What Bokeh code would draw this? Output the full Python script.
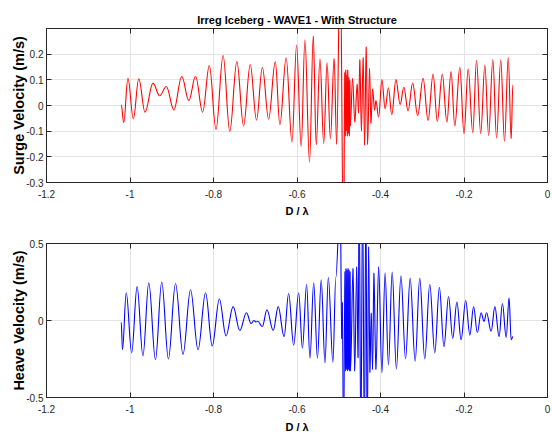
import numpy as np
from bokeh.plotting import figure
from bokeh.models import LinearAxis, FixedTicker, Range1d, CustomLabelingPolicy
from bokeh.layouts import column
from bokeh.embed import file_html
from bokeh.resources import INLINE

# ---------------- data (turning points of each trace) ----------------
title_text = "Irreg Iceberg - WAVE1 - With Structure"
x_label = "D / \u03bb"
surge_label = "Surge Velocity (m/s)"
heave_label = "Heave Velocity (m/s)"

x_ticks = [-1.2, -1.0, -0.8, -0.6, -0.4, -0.2, 0.0]
x_tick_labels = ["-1.2", "-1", "-0.8", "-0.6", "-0.4", "-0.2", "0"]
surge_ticks = [-0.3, -0.2, -0.1, 0.0, 0.1, 0.2]
surge_tick_labels = ["-0.3", "-0.2", "-0.1", "0", "0.1", "0.2"]
heave_ticks = [-0.5, 0.0, 0.5]
heave_tick_labels = ["-0.5", "0", "0.5"]

surge_x = [-1.021, -1.015, -1.005, -0.992, -0.979, -0.964, -0.945, -0.929, -0.913, -0.895,
           -0.876, -0.859, -0.843, -0.826, -0.810, -0.794, -0.777, -0.761, -0.744, -0.728,
           -0.712, -0.697, -0.683, -0.668, -0.652, -0.641, -0.626, -0.612, -0.601, -0.590,
           -0.581, -0.570, -0.561, -0.554, -0.545, -0.536, -0.528, -0.520, -0.511, -0.505,
           -0.4965, -0.4885,
           -0.4855, -0.4843, -0.4831, -0.4819, -0.4807, -0.4795, -0.4783, -0.4771, -0.4759,
           -0.4747, -0.4735, -0.4723,
           -0.4669, -0.4614, -0.4559, -0.4525, -0.4494, -0.4458, -0.4415, -0.4381, -0.4343,
           -0.4309, -0.4261, -0.4230, -0.4189, -0.4141, -0.4110, -0.4045, -0.3966,
           -0.389, -0.381, -0.373, -0.363, -0.353, -0.344, -0.334, -0.323, -0.311, -0.298,
           -0.286, -0.274, -0.264, -0.252, -0.241, -0.231, -0.222, -0.210, -0.200, -0.190,
           -0.179, -0.170, -0.160, -0.150, -0.141, -0.131, -0.122, -0.112, -0.103, -0.094,
           -0.087, -0.083]
surge_y = [0.003, -0.067, 0.106, -0.052, 0.104, -0.026, 0.087, 0.038, 0.074, -0.017,
           0.113, 0.019, 0.114, -0.026, 0.156, -0.093, 0.195, -0.101, 0.171, -0.080,
           0.160, -0.057, 0.149, -0.053, 0.170, -0.075, 0.186, -0.143, 0.236, -0.160,
           0.256, -0.221, 0.272, -0.153, 0.182, -0.149, 0.166, -0.130, 0.184, -0.152,
           0.60, -0.60,
           0.13, -0.12, 0.14, -0.10, 0.12, -0.12, 0.14, -0.11, 0.11,
           -0.12, 0.10, -0.08,
           0.106, -0.065, 0.084, -0.030, 0.180, -0.100, 0.188, -0.156, 0.230,
           -0.153, 0.145, -0.071, 0.065, -0.019, 0.019, -0.045, 0.101,
           -0.013, 0.069, -0.036, 0.101, 0.004, 0.071, -0.021, 0.087, -0.039, 0.106,
           -0.058, 0.123, -0.062, 0.123, -0.065, 0.132, -0.080, 0.149, -0.110, 0.143,
           -0.106, 0.176, -0.110, 0.158, -0.117, 0.179, -0.127, 0.178, -0.140, 0.188,
           -0.130, 0.081]

heave_x = [-1.021, -1.018, -1.009, -0.996, -0.983, -0.969, -0.955, -0.939, -0.924, -0.908,
           -0.891, -0.873, -0.855, -0.837, -0.819, -0.803, -0.786, -0.770, -0.753, -0.737,
           -0.721, -0.710, -0.703, -0.698, -0.694, -0.683, -0.672, -0.657, -0.645, -0.631,
           -0.620, -0.608, -0.596, -0.587, -0.577, -0.569, -0.560, -0.551, -0.542, -0.533,
           -0.525, -0.514, -0.507,
           -0.4965, -0.4928, -0.4915, -0.4885,
           -0.4850, -0.4838, -0.4826, -0.4814, -0.4802, -0.4790, -0.4778, -0.4766, -0.4754,
           -0.4742, -0.4730, -0.4718,
           -0.4658, -0.4617, -0.4569, -0.4537,
           -0.4511, -0.4470, -0.4429, -0.4386, -0.4350, -0.4319, -0.4283, -0.4254, -0.4223,
           -0.4189, -0.4158, -0.4110, -0.4045, -0.3966,
           -0.389, -0.381, -0.372, -0.362, -0.351, -0.340, -0.329, -0.317, -0.306, -0.294,
           -0.282, -0.270, -0.259, -0.248, -0.237, -0.227, -0.217, -0.207, -0.196, -0.186,
           -0.177, -0.168, -0.159, -0.152, -0.146, -0.135, -0.126, -0.116, -0.108, -0.099,
           -0.092, -0.087, -0.083]
heave_y = [-0.01, -0.19, 0.18, -0.21, 0.22, -0.23, 0.245, -0.255, 0.25, -0.25,
           0.24, -0.22, 0.20, -0.19, 0.18, -0.165, 0.14, -0.10, 0.09, -0.065,
           0.05, -0.02, 0.0, -0.01, -0.005, -0.04, 0.07, -0.065, 0.09, -0.105,
           0.175, -0.16, 0.18, -0.18, 0.235, -0.245, 0.245, -0.245, 0.265, -0.275,
           0.28, -0.27, 0.28,
           0.80, -0.12, 0.12, -0.80,
           0.32, -0.33, 0.34, -0.32, 0.33, -0.33, 0.34, -0.32, 0.33,
           -0.33, 0.32, -0.33,
           0.34, -0.33, 0.35, -0.245,
           0.80, -0.80, 0.80, -0.80, 0.80, -0.80, 0.48, -0.34, 0.05,
           -0.32, 0.31, -0.32, 0.35, -0.34,
           0.31, -0.29, 0.315, -0.315, 0.29, -0.25, 0.275, -0.265, 0.275, -0.25,
           0.235, -0.21, 0.215, -0.17, 0.155, -0.115, 0.12, -0.125, 0.13, -0.095,
           0.09, -0.08, 0.05, -0.005, 0.05, -0.07, 0.09, -0.105, 0.11, -0.11,
           0.145, -0.125, -0.105]

# ---------------- styling ----------------
SANS = "Liberation Sans"
AX_COL = "#262626"
GRID_COL = "#e3e3e3"

NO_LABELS = "for (let i = 0; i < indices.size; i++) { indices.set(i, false) }\nreturn indices"


def box_axis(ticks):
    # tick marks only (MATLAB "box on"): labels are empty and never drawn
    return LinearAxis(ticker=FixedTicker(ticks=ticks), major_tick_in=5, major_tick_out=0,
                      minor_tick_line_color=None, major_label_standoff=0,
                      major_label_overrides={t: "" for t in ticks},
                      major_label_text_font_size="1px",
                      major_label_policy=CustomLabelingPolicy(code=NO_LABELS),
                      axis_line_color=AX_COL, major_tick_line_color=AX_COL)


def style_axes(p, yticks, ylabels, ylabel, xlab_standoff):
    p.xaxis.ticker = FixedTicker(ticks=x_ticks)
    p.yaxis.ticker = FixedTicker(ticks=yticks)
    p.xaxis.major_label_overrides = dict(zip(x_ticks, x_tick_labels))
    p.yaxis.major_label_overrides = dict(zip(yticks, ylabels))
    for ax in (p.xaxis[0], p.yaxis[0]):
        ax.major_tick_in = 5
        ax.major_tick_out = 0
        ax.minor_tick_line_color = None
        ax.axis_line_color = AX_COL
        ax.major_tick_line_color = AX_COL
        ax.major_label_text_font = SANS
        ax.major_label_text_font_size = "10px"
        ax.major_label_text_color = AX_COL
        ax.axis_label_text_font = SANS
        ax.axis_label_text_font_style = "bold"
        ax.axis_label_text_color = "black"
    p.xaxis.axis_label = x_label
    p.xaxis.axis_label_text_font_size = "11px"
    p.xaxis.major_label_standoff = 7
    p.xaxis.axis_label_standoff = xlab_standoff
    p.yaxis.axis_label = ylabel
    p.yaxis.axis_label_text_font_size = "14.5px"
    p.yaxis.major_label_standoff = 3
    p.yaxis.axis_label_standoff = -4
    p.add_layout(box_axis(x_ticks), "above")
    p.add_layout(box_axis(yticks), "right")
    p.xgrid.ticker = FixedTicker(ticks=x_ticks)
    p.ygrid.ticker = FixedTicker(ticks=yticks)
    p.grid.grid_line_color = GRID_COL
    p.grid.grid_line_width = 1
    p.outline_line_color = AX_COL
    p.outline_line_width = 1


def draw_trace(p, xs, ys, color):
    xs = np.asarray(xs, dtype=float)
    ys = np.asarray(ys, dtype=float)
    x0, x1 = xs[:-1], xs[1:]
    y0, y1 = ys[:-1], ys[1:]
    dx = x1 - x0
    k = 0.37
    p.bezier(x0=x0, y0=y0, x1=x1, y1=y1,
             cx0=x0 + k * dx, cy0=y0, cx1=x1 - k * dx, cy1=y1,
             line_color=color, line_width=1.1)


p1 = figure(width=552, height=222, output_backend="svg", toolbar_location=None,
            x_range=Range1d(-1.2, 0.0), y_range=Range1d(-0.3, 0.3),
            min_border_left=46, min_border_right=5, min_border_top=28, min_border_bottom=40,
            background_fill_color="white", border_fill_color="white")
p1.title.text = title_text
p1.title.align = "center"
p1.title.text_font = SANS
p1.title.text_font_size = "11px"
p1.title.text_font_style = "bold"
p1.title.text_color = "black"
p1.title.standoff = 5
style_axes(p1, surge_ticks, surge_tick_labels, surge_label, 4)
draw_trace(p1, surge_x, surge_y, "#ff0000")

p2 = figure(width=552, height=213, output_backend="svg", toolbar_location=None,
            x_range=Range1d(-1.2, 0.0), y_range=Range1d(-0.5, 0.5),
            min_border_left=46, min_border_right=5, min_border_top=21, min_border_bottom=37,
            background_fill_color="white", border_fill_color="white")
style_axes(p2, heave_ticks, heave_tick_labels, heave_label, 5)
draw_trace(p2, heave_x, heave_y, "#0000ff")

layout = column(p1, p2, spacing=0)
open("out.html", "w").write(file_html(layout, INLINE))
